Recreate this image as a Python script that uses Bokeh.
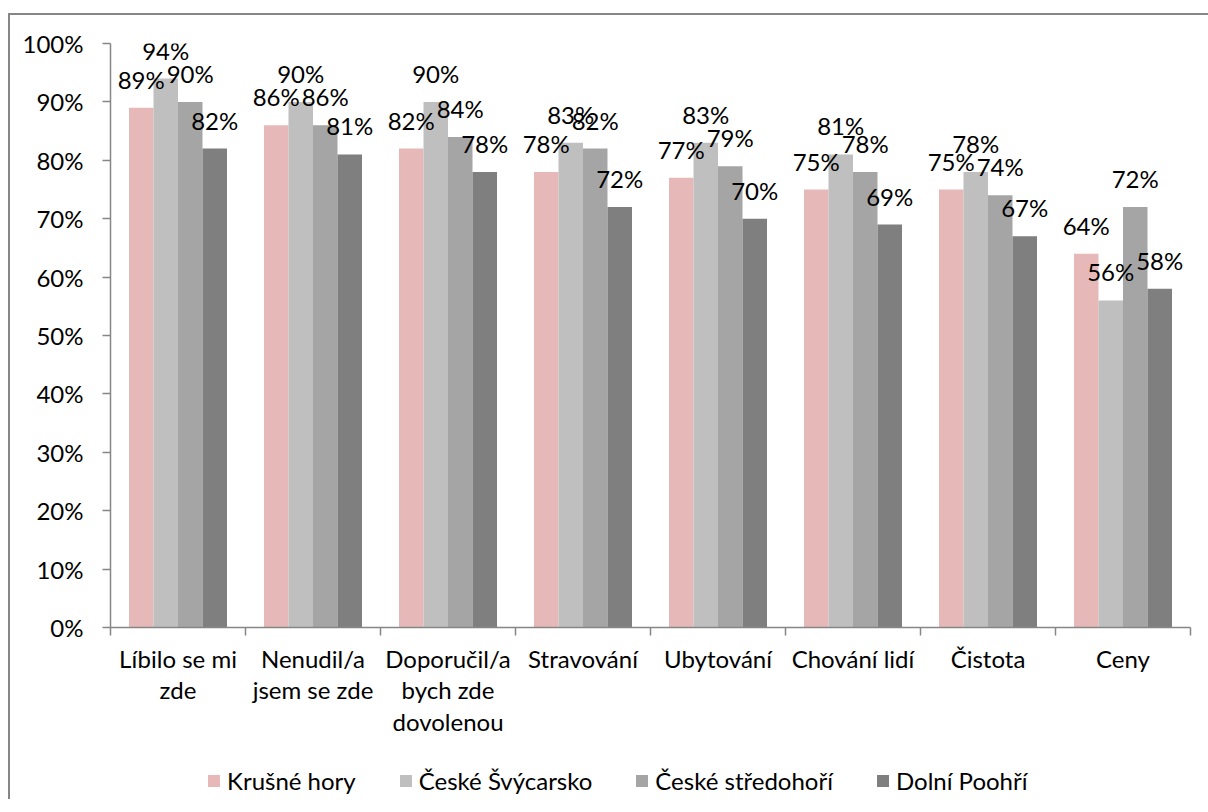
from bokeh.plotting import figure
from bokeh.layouts import column
from bokeh.models import (ColumnDataSource, Range1d, FixedTicker, PrintfTickFormatter,
                          LabelSet, Legend, LegendItem)
from bokeh.core.properties import value
from bokeh.embed import file_html
from bokeh.resources import INLINE

categories = ["Líbilo se mi\nzde", "Nenudil/a\njsem se zde", "Doporučil/a\nbych zde\ndovolenou",
              "Stravování", "Ubytování", "Chování lidí", "Čistota", "Ceny"]
series_names = ["Krušné hory", "České Švýcarsko", "České středohoří", "Dolní Poohří"]
krusne_hory = [89, 86, 82, 78, 77, 75, 75, 64]
ceske_svycarsko = [94, 90, 90, 83, 83, 81, 78, 56]
ceske_stredohori = [90, 86, 84, 82, 79, 78, 74, 72]
dolni_poohri = [82, 81, 78, 72, 70, 69, 67, 58]
y_ticks = [0, 10, 20, 30, 40, 50, 60, 70, 80, 90, 100]

series = [krusne_hory, ceske_svycarsko, ceske_stredohori, dolni_poohri]
colors = ["#E6B9B8", "#BFBFBF", "#A5A5A5", "#7F7F7F"]

FONT = "Lato"
FS = "24px"
AXIS_COLOR = "#868686"

p = figure(frame_width=1080, frame_height=584, output_backend="svg", toolbar_location=None,
           x_range=Range1d(0, len(categories)), y_range=Range1d(0, 100),
           min_border_left=100, min_border_top=28, min_border_right=18, min_border_bottom=110)
p.outline_line_color = None
p.xgrid.visible = False
p.ygrid.visible = False

bar_w = 0.1815
offsets = [-1.5, -0.5, 0.5, 1.5]
centers = [i + 0.5 for i in range(len(categories))]

for name, vals, col, off in zip(series_names, series, colors, offsets):
    src = ColumnDataSource(dict(x=[c + off * bar_w for c in centers], top=vals,
                                lbl=[f"{v}%" for v in vals]))
    p.vbar(x="x", top="top", bottom=0, width=bar_w, source=src,
           fill_color=col, line_color=None)
    labels = LabelSet(x="x", y="top", text="lbl", source=src, text_align="center",
                      text_baseline="alphabetic", y_offset=19, text_font=value(FONT),
                      text_font_size=value(FS), text_color="black")
    p.add_layout(labels)

# y axis
p.yaxis.ticker = FixedTicker(ticks=y_ticks)
p.yaxis.formatter = PrintfTickFormatter(format="%d%%")
p.yaxis.axis_line_color = AXIS_COLOR
p.yaxis.axis_line_width = 1.5
p.yaxis.major_tick_line_color = AXIS_COLOR
p.yaxis.major_tick_line_width = 1.5
p.yaxis.major_tick_out = 8
p.yaxis.major_tick_in = 0
p.yaxis.minor_tick_line_color = None
p.yaxis.major_label_standoff = 19
p.yaxis.major_label_text_font = FONT
p.yaxis.major_label_text_font_size = FS
p.yaxis.major_label_text_color = "black"

# x axis
p.xaxis.ticker = FixedTicker(ticks=centers, minor_ticks=list(range(len(categories) + 1)))
p.xaxis.major_label_overrides = {c: lab for c, lab in zip(centers, categories)}
p.xaxis.axis_line_color = AXIS_COLOR
p.xaxis.axis_line_width = 1.5
p.xaxis.major_tick_line_color = None
p.xaxis.major_tick_out = 0
p.xaxis.major_tick_in = 0
p.xaxis.minor_tick_line_color = AXIS_COLOR
p.xaxis.minor_tick_line_width = 1.5
p.xaxis.minor_tick_out = 8
p.xaxis.minor_tick_in = 0
p.xaxis.major_label_standoff = 8
p.xaxis.major_label_text_font = FONT
p.xaxis.major_label_text_font_size = FS
p.xaxis.major_label_text_color = "black"
p.xaxis.major_label_text_line_height = 1.1

# legend strip below the chart
lf = figure(width=1198, height=60, output_backend="svg", toolbar_location=None,
            x_range=Range1d(0, 1), y_range=Range1d(0, 1),
            x_axis_type=None, y_axis_type=None, min_border=0)
lf.outline_line_color = None
lf.xgrid.visible = False
lf.ygrid.visible = False
items = []
for name, col in zip(series_names, colors):
    r = lf.vbar(x=[-10], top=[0], width=0.1, fill_color=col, line_color=None)
    items.append(LegendItem(label=name, renderers=[r]))
legend = Legend(items=items, orientation="horizontal", location=(96, 4),
                label_text_font=FONT, label_text_font_size=FS, label_text_color="black",
                glyph_width=15, glyph_height=15, label_standoff=6, spacing=42,
                border_line_color=None, background_fill_alpha=0, margin=0, padding=0)
lf.add_layout(legend, "center")

layout = column(p, lf, spacing=0)
layout.margin = (13, 0, 0, 8)
layout.styles = {"border-top": "2px solid #868686", "border-left": "2px solid #868686"}

open("out.html", "w").write(file_html(layout, INLINE))
